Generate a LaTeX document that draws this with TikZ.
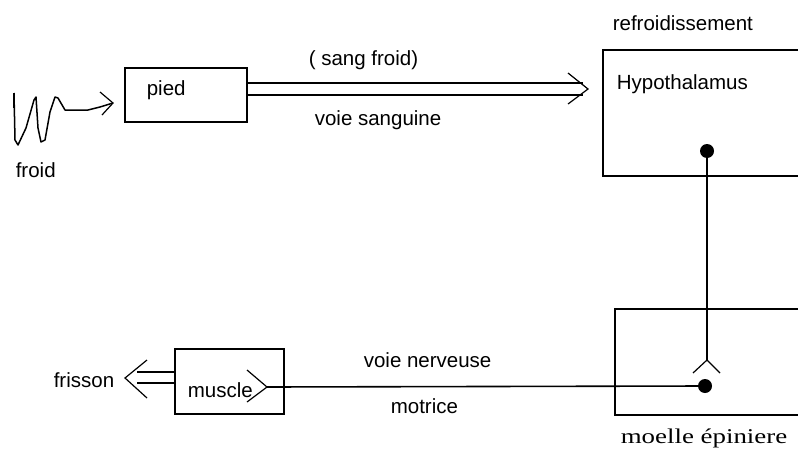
\documentclass[tikz,border=0pt]{standalone}
\usepackage{fontspec}
\setmainfont{Liberation Sans}
\newfontfamily\serifft{Liberation Serif}
\begin{document}
\begin{tikzpicture}[x=1pt,y=-1pt, line width=1.6pt, line join=miter,
  box/.style={draw, line width=1.6pt, anchor=north west, inner sep=0pt},
  lbl/.style={anchor=base west, inner sep=0pt, font=\fontsize{20.5}{24}\selectfont},
  chev/.style={line width=1.2pt},
  dotf/.style={fill=black}]
\useasboundingbox (0,0) rectangle (798,450);
\clip (0,0) rectangle (798,450);
\fill[white] (0,0) rectangle (798,450);

% boxes
\node[box, minimum width=122pt, minimum height=54pt] (pied) at (124,67) {};
\node[box, minimum width=230pt, minimum height=126pt] (hypo) at (602,49) {};
\node[box, minimum width=230pt, minimum height=106pt] (moelle) at (614,308) {};
\node[box, minimum width=109pt, minimum height=65pt] (muscle) at (174,348) {};

% texts
\node[lbl] (tpied) at (146,95) {pied};
\node[lbl] (thypo) at (616,89) {Hypothalamus};
\node[lbl] (trefr) at (612,30) {refroidissement};
\node[lbl] (tsang) at (308,65) {( sang froid)};
\node[lbl] (tvoies) at (314,125) {voie sanguine};
\node[lbl] (tfroid) at (15,177) {froid};
\node[lbl] (tfrisson) at (53,387) {frisson};
\node[lbl] (tmuscle) at (187,397) {muscle};
\node[lbl] (tnerv) at (363,367) {voie nerveuse};
\node[lbl] (tmotr) at (390,413) {motrice};
\node[anchor=base west, inner sep=0pt] (tmoelle) at (620,443)
  {\serifft\fontsize{21}{25}\selectfont\scalebox{1.28}[1]{moelle épiniere}};

% coordinates
\coordinate (sqtip) at (113,103);
\coordinate (sgtip) at (588,89);
\coordinate (sgtop) at (583,83);
\coordinate (sgbot) at (583,95);
\coordinate (dotA) at (707,151);
\coordinate (vtip) at (707,360);
\coordinate (dotB) at (705,386);
\coordinate (mtip) at (267,387);
\coordinate (frtip) at (125,378);
\coordinate (frtop) at (137,372);
\coordinate (frbot) at (137,383);

% cold squiggle
\draw[line width=1.5pt, line join=round]
  (14,93) -- (15,140) -- (18,145) -- (26,128) -- (34,100) -- (36,97)
  -- (38,128) -- (41,142) -- (45,140) -- (50,112) -- (55,97) -- (58,98)
  -- (65,110) -- (88,110) -- (100,107) -- (sqtip);
\draw[line width=2.6pt] (14,93) -- (14,108);
\draw[chev] (100,92) -- (sqtip) -- (102,115);

% voie sanguine double arrow
\draw (pied.east |- sgtop) -- (sgtop);
\draw (pied.east |- sgbot) -- (sgbot);
\draw[chev] (568,73) -- (sgtip) -- (568,104);

% hypothalamus -> moelle
\fill[dotf] (dotA) circle (7);
\draw (dotA) -- (vtip);
\draw[chev] (693,373) -- (vtip) -- (720,373);

% moelle -> muscle
\fill[dotf] (dotB) circle (7);
\draw (mtip) -- (dotB);
\draw[chev] (247,370) -- (mtip) -- (247,402);

% frisson double arrow
\draw (muscle.west |- frtop) -- (frtop);
\draw (muscle.west |- frbot) -- (frbot);
\draw[chev] (147,360) -- (frtip) -- (147,398);
\end{tikzpicture}
\end{document}
